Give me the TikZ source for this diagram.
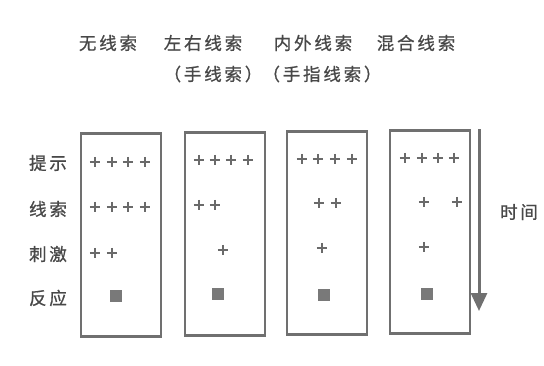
\documentclass[tikz,border=0pt]{standalone}
\usepackage{fontspec}
\newfontfamily\cjk[LetterSpace=16,FakeBold=0.8]{Noto Sans CJK SC}
\usetikzlibrary{arrows.meta}
\definecolor{ink}{HTML}{484848}
\definecolor{frame}{HTML}{707070}
\definecolor{plusgray}{HTML}{6A6A6A}
\tikzset{
  box/.style={draw=frame, line width=2.5pt, minimum width=80pt, minimum height=203pt, inner sep=0pt},
  lbl/.style={font=\cjk\fontsize{17.5pt}{17.5pt}\selectfont, text=ink, inner sep=0pt},
  pl/.style={minimum size=10.5pt, inner sep=0pt,
    path picture={\draw[draw=plusgray, line width=1.1pt]
      (path picture bounding box.north) -- (path picture bounding box.south)
      (path picture bounding box.west) -- (path picture bounding box.east);}},
  sq/.style={fill=plusgray!90, minimum size=12pt, inner sep=0pt},
}
\begin{document}
\begin{tikzpicture}[x=1pt,y=-1pt]
\useasboundingbox (0,0) rectangle (544,365);
\fill[white] (0,0) rectangle (544,365);
% headers
\node[lbl] (h1) at (108,43) {无线索};
\node[lbl] (h2) at (203,43) {左右线索};
\node[lbl] (h3) at (313,43) {内外线索};
\node[lbl] (h4) at (416,43) {混合线索};
\node[lbl] (s2) at (213,74) {（手线索）};
\node[lbl] (s3) at (322,74) {（手指线索）};
% row labels
\node[lbl] (r1) at (48,163) {提示};
\node[lbl] (r2) at (48,209) {线索};
\node[lbl] (r3) at (48,254) {刺激};
\node[lbl] (r4) at (48,298) {反应};
% boxes
\node[box] (b1) at (121,235) {};
\node[box] (b2) at (225,234) {};
\node[box] (b3) at (327,233) {};
\node[box] (b4) at (430,232) {};
% box 1
\foreach \x [count=\i] in {95,112,128,145} \node[pl] (a1\i) at (\x,162) {};
\foreach \x [count=\i] in {95,112,128,145} \node[pl] (a2\i) at (\x,207) {};
\foreach \x [count=\i] in {95,112} \node[pl] (a3\i) at (\x,253) {};
\node[sq] (a4) at (116,296) {};
% box 2
\foreach \x [count=\i] in {199,215,231,248} \node[pl] (c1\i) at (\x,160) {};
\foreach \x [count=\i] in {199,215} \node[pl] (c2\i) at (\x,205) {};
\node[pl] (c31) at (223,250) {};
\node[sq] (c4) at (218,294) {};
% box 3
\foreach \x [count=\i] in {302,318,335,352} \node[pl] (d1\i) at (\x,159) {};
\foreach \x [count=\i] in {319,336} \node[pl] (d2\i) at (\x,203) {};
\node[pl] (d31) at (322,248) {};
\node[sq] (d4) at (324,295) {};
% box 4
\foreach \x [count=\i] in {405,422,438,454} \node[pl] (e1\i) at (\x,158) {};
\foreach \x [count=\i] in {424,457} \node[pl] (e2\i) at (\x,202) {};
\node[pl] (e31) at (424,247) {};
\node[sq] (e4) at (427,294) {};
% time arrow
\coordinate (t0) at (479,129);
\coordinate (t1) at (479,311);
\draw[draw=frame, fill=frame, line width=3pt, -{Triangle[width=16pt,length=18pt]}] (t0) -- (t1);
\node[lbl] (tm) at (519,212) {时间};
\end{tikzpicture}
\end{document}
